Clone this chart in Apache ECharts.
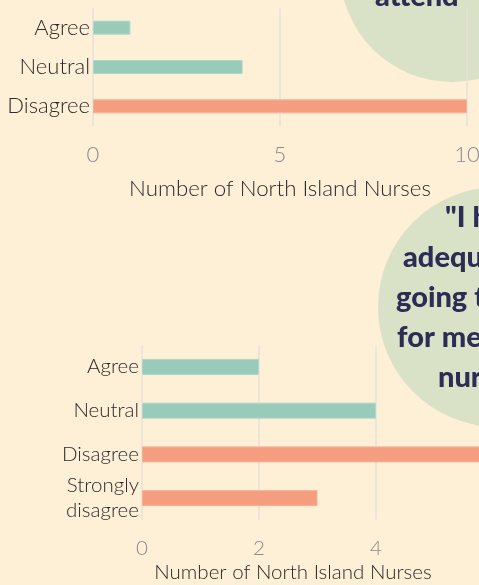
<!DOCTYPE html>
<html>
<head>
<meta charset="utf-8">
<script src="https://cdn.jsdelivr.net/npm/echarts@6/dist/echarts.min.js"></script>
<style>
html,body{margin:0;padding:0;background:#FEEFD7;}
#c{width:479px;height:585px;}
</style>
</head>
<body>
<div id="c"></div>
<script>
const categories1 = ['Agree', 'Neutral', 'Disagree'];
const values1 = [1, 4, 10];
const categories2 = ['Agree', 'Neutral', 'Disagree', 'Strongly\ndisagree'];
const values2 = [2, 4, 6, 3];
const axisName = 'Number of North Island Nurses';
const quote1Lines = ['attend'];
const quote2Lines = ['"I have', 'adequate time', 'going to events', 'for mental health', 'nurses"'];

const TEAL = '#99CBBB', SALMON = '#F59E7F';
const TEAL_B = '#AFD6C7', SALMON_B = '#F7B197';
const isDis = c => c.indexOf('isagree') >= 0;
const styleFor = c => ({color: isDis(c) ? SALMON : TEAL, borderColor: isDis(c) ? SALMON_B : TEAL_B, borderWidth: 1});

const chart = echarts.init(document.getElementById('c'));
const quoteFont = '900 29px Lato, "Open Sans", sans-serif';
const graphics = [
  {type:'circle', z:-10, shape:{cx:452, cy:-30, r:112}, style:{fill:'#D9E1C7'}},
  {type:'circle', z:-10, shape:{cx:498, cy:307, r:120}, style:{fill:'#D9E1C7'}}
];
quote1Lines.forEach((t,i)=>graphics.push({type:'text', z:-5, style:{text:t, x:375, y:-3 + i*40, font:quoteFont, fill:'#2B2D55', align:'left', verticalAlign:'middle'}}));
const q2x = [445, 403, 396, 397, 438];
const q2base = [228, 268, 308, 348, 388];
quote2Lines.forEach((t,i)=>graphics.push({type:'text', z:-5, style:{text:t, x:q2x[i], y:q2base[i]-10, font:quoteFont, fill:'#2B2D55', align:'left', verticalAlign:'middle'}}));

const labelFont = {fontFamily:'Lato', fontWeight:300, color:'#2a2a2a'};
function xAx(gi, max, interval, gap, pad, fs, tfs){
  return {
    gridIndex: gi, type:'value', min:0, max:max, interval:interval,
    axisLine:{show:false}, axisTick:{show:false},
    splitLine:{show:true, lineStyle:{color:'#E6E2D8', width:1.5}},
    axisLabel:{margin:18, fontSize:tfs, fontFamily:'Lato', fontWeight:300, color:'#8a8a8a'},
    name: axisName, nameLocation:'middle', nameGap:gap,
    nameTextStyle:{fontSize:fs, fontFamily:'Lato', fontWeight:300, color:'#2a2a2a', padding:pad}
  };
}
function yAx(gi, data, fs){
  return {
    gridIndex: gi, type:'category', data:data, inverse:true,
    axisLine:{show:false}, axisTick:{show:false},
    axisLabel:Object.assign({margin:3, fontSize:fs, lineHeight:25}, labelFont)
  };
}
chart.setOption({
  backgroundColor:'#FEEFD7',
  animation:false,
  graphic: graphics,
  grid:[
    {left:93, width:374, top:8, height:118, outerBoundsMode:'none', containLabel:false},
    {left:142, width:351, top:345, height:175, outerBoundsMode:'none', containLabel:false}
  ],
  xAxis:[xAx(0,10,5,52,[0,0,0,0],22.3,22), xAx(1,6,2,42,[0,49,0,0],20.5,20.5)],
  yAxis:[yAx(0,categories1,22), yAx(1,categories2,20.5)],
  series:[
    {type:'bar', xAxisIndex:0, yAxisIndex:0, barWidth:14,
     data: values1.map((v,i)=>({value:v, itemStyle:styleFor(categories1[i])}))},
    {type:'bar', xAxisIndex:1, yAxisIndex:1, barWidth:16,
     data: values2.map((v,i)=>({value:v, itemStyle:styleFor(categories2[i])}))}
  ]
});
</script>
</body>
</html>
